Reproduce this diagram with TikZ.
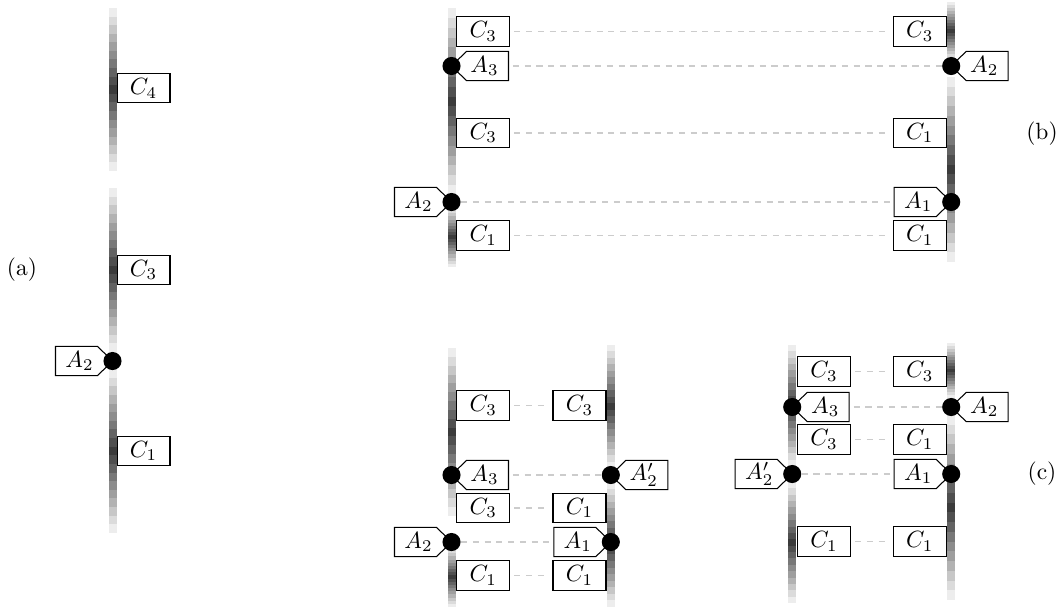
\documentclass[tikz,border=0pt]{standalone}
\tikzset{
 cbox/.style={draw, fill=white, line width=0.45pt, minimum width=22.55pt, minimum height=12.4pt, inner sep=0pt},
 dot/.style={circle, fill=black, inner sep=0pt, minimum size=7.7pt},
 atext/.style={inner sep=0pt, minimum width=20.4pt, minimum height=12.4pt},
 apent/.style={draw, fill=white, line width=0.45pt},
 dline/.style={draw=black!20, line width=0.45pt, dash pattern=on 2.6pt off 2.4pt},
 gap/.style={shorten <=1.7pt, shorten >=1.7pt},
 gapS/.style={shorten <=1.7pt},
 gapE/.style={shorten >=1.7pt},
 plabel/.style={inner sep=0pt}
}
% gradient bar segment: x, ytop, ybot
\newcommand\barseg[3]{%
  \pgfmathsetmacro\hh{(#3-#2)/19}%
  \foreach \i in {0,...,18}{%
    \pgfmathtruncatemacro\blk{77-70*abs(\i-9)/9}%
    \fill[black!\blk] (#1-4,{#2+\i*\hh}) rectangle (#1+4,{#2+\i*\hh+\hh+0.4});
  }%
}
% A label to the right of its dot: x, y, name, text
\newcommand\labR[4]{%
  \draw[apent] (#1,#2) -- ++(15,-14.6) -- ++(42,0) -- ++(0,29.2) -- ++(-42,0) -- cycle;
  \node[atext] (#3t) at (#1+33,#2) {#4};
  \node[dot] (#3) at (#1,#2) {};
}
% A label to the left of its dot
\newcommand\labL[4]{%
  \draw[apent] (#1,#2) -- ++(-15,-14.6) -- ++(-42,0) -- ++(0,29.2) -- ++(42,0) -- cycle;
  \node[atext] (#3t) at (#1-33,#2) {#4};
  \node[dot] (#3) at (#1,#2) {};
}
\begin{document}
\begin{tikzpicture}[x=0.4255pt,y=-0.4255pt]
\useasboundingbox (0,0) rectangle (1060,610);

% ---------------- bars ----------------
\barseg{112.5}{8}{171}
\barseg{112.5}{188}{352}
\barseg{112.5}{369}{533}

\barseg{451.5}{8}{195}
\barseg{451.5}{207}{267}
\barseg{951.2}{2}{60}
\barseg{951.2}{77}{262}

\barseg{451.5}{348}{516}
\barseg{451.5}{547}{607}
\barseg{610.8}{345}{468}
\barseg{610.8}{482}{607}

\barseg{792.2}{345}{466}
\barseg{792.2}{482}{603}
\barseg{951.2}{343}{398}
\barseg{951.2}{415}{600}

% ---------------- panel (a) ----------------
\node[plabel] (la) at (22,270) {(a)};
\node[cbox, anchor=west] (aC4) at (116.5,88.3) {$C_4$};
\node[cbox, anchor=west] (aC3) at (116.5,270) {$C_3$};
\node[cbox, anchor=west] (aC1) at (116.5,451) {$C_1$};
\labL{112.5}{361}{aA2}{$A_2$}

% ---------------- panel (b) ----------------
\node[plabel] (lb) at (1042,134) {(b)};
\node[cbox, anchor=west] (bC3L) at (456.3,31.5) {$C_3$};
\node[cbox, anchor=west] (bC3Lb) at (456.3,133) {$C_3$};
\node[cbox, anchor=west] (bC1L) at (456.3,235.5) {$C_1$};
\labR{451.5}{66}{bA3}{$A_3$}
\labL{451.5}{202}{bA2}{$A_2$}
\node[cbox, anchor=east] (bC3R) at (946.7,31.5) {$C_3$};
\node[cbox, anchor=east] (bC1Ra) at (946.7,133) {$C_1$};
\node[cbox, anchor=east] (bC1Rb) at (946.7,235.5) {$C_1$};
\labR{951.2}{66}{bA2r}{$A_2$}
\labL{951.2}{202}{bA1}{$A_1$}
\draw[dline, gap] (bC3L.east) -- (bC3R.west);
\draw[dline, gapS] (bA3t.east) -- (bA2r);
\draw[dline, gap] (bC3Lb.east) -- (bC1Ra.west);
\draw[dline, gapE] (bA2) -- (bA1t.west);
\draw[dline, gap] (bC1L.east) -- (bC1Rb.west);

% ---------------- panel (c), left ----------------
\node[cbox, anchor=west] (cC3L) at (456.3,405.5) {$C_3$};
\node[cbox, anchor=west] (cC3Lb) at (456.3,508) {$C_3$};
\node[cbox, anchor=west] (cC1L) at (456.3,575.5) {$C_1$};
\labR{451.5}{475}{cA3}{$A_3$}
\labL{451.5}{542}{cA2}{$A_2$}
\node[cbox, anchor=east] (cC3R) at (606.5,405.5) {$C_3$};
\node[cbox, anchor=east] (cC1Ra) at (606.5,508) {$C_1$};
\node[cbox, anchor=east] (cC1Rb) at (606.5,575.5) {$C_1$};
\labR{610.8}{475}{cA2p}{$A_2'$}
\labL{610.8}{542}{cA1}{$A_1$}
\draw[dline, gap] (cC3L.east) -- (cC3R.west);
\draw[dline, gapS] (cA3t.east) -- (cA2p);
\draw[dline, gap] (cC3Lb.east) -- (cC1Ra.west);
\draw[dline, gapE] (cA2) -- (cA1t.west);
\draw[dline, gap] (cC1L.east) -- (cC1Rb.west);

% ---------------- panel (c), right ----------------
\node[plabel] (lc) at (1042,474) {(c)};
\node[cbox, anchor=west] (dC3L) at (797,371.5) {$C_3$};
\node[cbox, anchor=west] (dC3Lb) at (797,439.5) {$C_3$};
\node[cbox, anchor=west] (dC1L) at (797,541.5) {$C_1$};
\labR{792.2}{407}{dA3}{$A_3$}
\labL{792.2}{474}{dA2p}{$A_2'$}
\node[cbox, anchor=east] (dC3R) at (946.7,371.5) {$C_3$};
\node[cbox, anchor=east] (dC1Ra) at (946.7,439.5) {$C_1$};
\node[cbox, anchor=east] (dC1Rb) at (946.7,541.5) {$C_1$};
\labR{951.2}{407}{dA2}{$A_2$}
\labL{951.2}{474}{dA1}{$A_1$}
\draw[dline, gap] (dC3L.east) -- (dC3R.west);
\draw[dline, gapS] (dA3t.east) -- (dA2);
\draw[dline, gap] (dC3Lb.east) -- (dC1Ra.west);
\draw[dline, gapE] (dA2p) -- (dA1t.west);
\draw[dline, gap] (dC1L.east) -- (dC1Rb.west);
\end{tikzpicture}
\end{document}
